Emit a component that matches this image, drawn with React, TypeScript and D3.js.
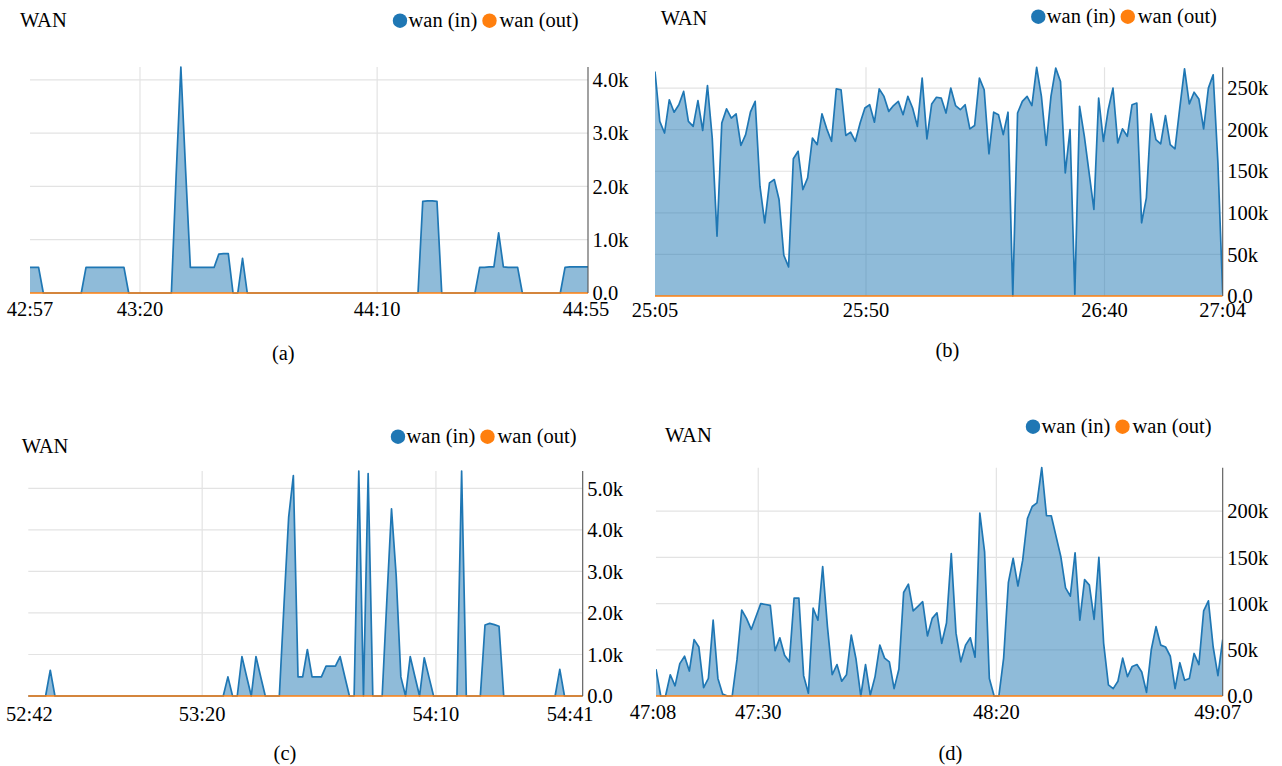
import React from "react";
import * as d3 from "d3";

// ---------- DATA (one sample per second, values in thousands) ----------
// Panel (a): first sample at 42:56.6
const aValuesK = [
  0.48, 0.48, 0.48, 0, 0, 0, 0, 0, 0, 0, 0, 0,
  0.48, 0.48, 0.48, 0.48, 0.48, 0.48, 0.48, 0.48, 0.48,
  0, 0, 0, 0, 0, 0, 0, 0, 0, 0,
  2.2, 4.24, 2.3,
  0.48, 0.48, 0.48, 0.48, 0.48, 0.48,
  0.73, 0.74, 0.74, 0, 0, 0.65,
  0, 0, 0, 0, 0, 0, 0, 0, 0, 0, 0, 0, 0, 0, 0, 0, 0, 0, 0, 0, 0, 0, 0, 0, 0, 0, 0, 0, 0, 0, 0, 0, 0, 0, 0, 0, 0,
  1.72, 1.73, 1.73, 1.72,
  0, 0, 0, 0, 0, 0, 0, 0,
  0.48, 0.48, 0.49, 0.49, 1.13, 0.49, 0.48, 0.48, 0.48,
  0, 0, 0, 0, 0, 0, 0, 0, 0,
  0.48, 0.49, 0.49, 0.49, 0.49, 0.49,
];
const aXTickLabels = ["42:57", "43:20", "44:10", "44:55"];
const aYTicksK = [0, 1, 2, 3, 4];

// Panel (b): first sample at 25:05.8
const bValuesK = [
  270, 210, 196, 236, 221, 230, 246, 210, 204, 235, 199, 253, 190, 72, 208, 225, 214, 219, 181, 194,
  221, 234, 132, 88, 136, 140, 116, 49, 35, 165, 174, 128, 142, 190, 182, 219, 201, 186, 249, 248,
  193, 197, 186, 208, 226, 230, 209, 249, 240, 222, 229, 234, 218, 240, 226, 204, 262, 189, 231, 239,
  238, 220, 250, 229, 224, 230, 201, 205, 262, 248, 171, 221, 218, 194, 221, 0, 220, 234, 240, 229,
  275, 240, 181, 240, 274, 258, 148, 200, 2, 228, 192, 148, 104, 238, 186, 224, 250, 184, 201, 192,
  230, 232, 88, 118, 219, 188, 183, 217, 182, 177, 226, 273, 231, 245, 237, 201, 250, 266, 160, 3,
];
const bXTickLabels = ["25:05", "25:50", "26:40", "27:04"];
const bYTicksK = [0, 50, 100, 150, 200, 250];

// Panel (c): first sample at 52:42.5
const cValuesK = [
  0, 0, 0, 0, 0, 0.62,
  0, 0, 0, 0, 0, 0, 0, 0, 0, 0, 0, 0, 0, 0, 0, 0, 0, 0, 0, 0, 0, 0, 0, 0, 0, 0, 0, 0, 0, 0, 0, 0, 0, 0, 0, 0, 0,
  0.46, 0, 0, 0.95, 0.47, 0, 0.95, 0.47, 0, 0, 0, 0,
  2.2, 4.31, 5.31, 0.46, 0.46, 1.12, 0.46, 0.46, 0.46, 0.72, 0.72, 0.72, 0.95, 0.47,
  0, 0, 5.42, 0, 5.36, 0, 0, 0, 2.3, 4.51, 2.9, 0.46, 0, 0.95, 0.47, 0, 0.92, 0.46,
  0, 0, 0, 0, 0, 0,
  5.42, 0, 0, 0, 0,
  1.71, 1.75, 1.72, 1.68,
  0, 0, 0, 0, 0, 0, 0, 0, 0, 0, 0, 0,
  0.64, 0, 0, 0, 0, 0,
];
const cXTickLabels = ["52:42", "53:20", "54:10", "54:41"];
const cYTicksK = [0, 1, 2, 3, 4, 5];

// Panel (d): first sample at 47:08.5
const dValuesK = [
  29, 0, 0, 23, 11, 35, 43, 27, 61, 53, 9, 19, 82, 19, 2, 0, 0, 39, 93, 84,
  72, 86, 100, 99, 98, 49, 63, 44, 37, 106, 106, 22, 3, 95, 82, 140, 75, 23, 34, 16,
  23, 66, 40, 0, 34, 1, 21, 55, 41, 37, 8, 29, 112, 121, 92, 97, 102, 65, 84, 90,
  57, 79, 154, 68, 37, 55, 63, 42, 198, 156, 19, 0, 0, 41, 123, 149, 119, 147, 192, 205,
  209, 247, 195, 195, 173, 151, 117, 108, 155, 82, 126, 120, 83, 150, 57, 12, 8, 16, 41, 21,
  32, 34, 26, 4, 50, 75, 55, 53, 43, 8, 36, 17, 19, 46, 34, 92, 103, 53, 22, 61,
];
const dXTickLabels = ["47:08", "47:30", "48:20", "49:07"];
const dYTicksK = [0, 50, 100, 150, 200];

// wan (out) reads 0 throughout every panel
const wanOutK = 0;

const seriesNames = ["wan (in)", "wan (out)"];
const seriesColors = ["#1f77b4", "#ff7f0e"];

// ---------- LAYOUT ----------
const FONT = "Liberation Serif, Times New Roman, serif";
const FS = 20.5;

const parseMS = (s: string) => {
  const [m, sec] = s.split(":").map(Number);
  return m * 60 + sec;
};

type Cfg = {
  id: string;
  values: number[];
  t0: number;
  tLo: number;
  tHi: number;
  xTicks: string[];
  yTicks: number[];
  left: number;
  right: number;
  top: number;
  bottom: number;
  title: [number, number];
  legend: [number, number];
  caption: string;
  capPos: [number, number];
  endShift: number;
  startShift: number;
  xLabelDy: number;
};

const panels: Cfg[] = [
  {
    id: "a", values: aValuesK, t0: 2576.62, tLo: 2576.81, tHi: 2694.46,
    xTicks: aXTickLabels, yTicks: aYTicksK,
    left: 30, right: 588, top: 67, bottom: 293,
    title: [20, 26.7], legend: [400, 20.7], caption: "(a)", capPos: [283.3, 359.5],
    endShift: -2, startShift: 0, xLabelDy: 23,
  },
  {
    id: "b", values: bValuesK, t0: 1505.77, tLo: 1505.77, tHi: 1624.77,
    xTicks: bXTickLabels, yTicks: bYTicksK,
    left: 655, right: 1222.7, top: 67.3, bottom: 296,
    title: [660.7, 25], legend: [1038.3, 16.7], caption: "(b)", capPos: [947.5, 356.5],
    endShift: 0, startShift: 0, xLabelDy: 21,
  },
  {
    id: "c", values: cValuesK, t0: 3162.5, tLo: 3162.8, tHi: 3281.4,
    xTicks: cXTickLabels, yTicks: cYTicksK,
    left: 28.3, right: 582.7, top: 471, bottom: 696,
    title: [21.7, 452.7], legend: [398, 436.7], caption: "(c)", capPos: [285, 759.5],
    endShift: -12.5, startShift: 1, xLabelDy: 24.5,
  },
  {
    id: "d", values: dValuesK, t0: 2828.53, tLo: 2828.53, tHi: 2947.53,
    xTicks: dXTickLabels, yTicks: dYTicksK,
    left: 656, right: 1222.7, top: 467.7, bottom: 696,
    title: [665, 441.7], legend: [1033, 426.7], caption: "(d)", capPos: [950.5, 759.5],
    endShift: -5, startShift: -3, xLabelDy: 23.3,
  },
];

const fmt = d3.format(".2s");

function Panel({ cfg }: { cfg: Cfg }) {
  const { values, t0, tLo, tHi, left, right, top, bottom } = cfg;
  const x = d3.scaleLinear().domain([tLo, tHi]).range([left, right]);
  const y = d3.scaleLinear().domain([0, d3.max(values) as number]).range([bottom, top]);
  const pts: [number, number][] = values.map((v, i) => [t0 + i, v]);

  const area = d3.area<[number, number]>().x((d) => x(d[0])).y0(y(0)).y1((d) => y(d[1]));
  const line = d3.line<[number, number]>().x((d) => x(d[0])).y((d) => y(d[1]));
  const outPts: [number, number][] = pts.map((d) => [d[0], wanOutK]);

  const midTicks = cfg.xTicks.slice(1, -1).map((l) => ({ l, t: parseMS(l) }));
  const clipId = `clip-${cfg.id}`;
  const [lx, ly] = cfg.legend;
  const textProps = { fontSize: FS, style: { fontFamily: FONT }, fill: "#000" };

  return (
    <g>
      <defs>
        <clipPath id={clipId}>
          <rect x={left} y={top - 20} width={right - left} height={bottom - top + 40} />
        </clipPath>
      </defs>
      {cfg.yTicks.filter((v) => v > 0).map((v) => (
        <line key={"gy" + v} x1={left} x2={right} y1={y(v)} y2={y(v)} stroke="#e3e3e3" strokeWidth={1.2} />
      ))}
      {midTicks.map((tk) => (
        <line key={"gx" + tk.l} x1={x(tk.t)} x2={x(tk.t)} y1={top} y2={bottom} stroke="#e3e3e3" strokeWidth={1.2} />
      ))}
      <g clipPath={`url(#${clipId})`}>
        <path d={area(pts) as string} fill={seriesColors[0]} fillOpacity={0.5} stroke="none" />
        <path d={line(pts) as string} fill="none" stroke={seriesColors[0]} strokeWidth={1.7} strokeLinejoin="round" />
        <path d={line(outPts) as string} fill="none" stroke={seriesColors[1]} strokeWidth={1.6} />
      </g>
      <line x1={right} x2={right} y1={top} y2={bottom} stroke="#555" strokeWidth={1.1} />
      {cfg.yTicks.map((v) => (
        <text key={"yt" + v} x={right + 4.5} y={y(v)} dy="0.35em" {...textProps}>
          {fmt(v * 1000)}
        </text>
      ))}
      <text x={left + cfg.startShift} y={bottom + cfg.xLabelDy} textAnchor="middle" {...textProps}>
        {cfg.xTicks[0]}
      </text>
      {midTicks.map((tk) => (
        <text key={"xt" + tk.l} x={x(tk.t)} y={bottom + cfg.xLabelDy} textAnchor="middle" {...textProps}>
          {tk.l}
        </text>
      ))}
      <text x={right + cfg.endShift} y={bottom + cfg.xLabelDy} textAnchor="middle" {...textProps}>
        {cfg.xTicks[cfg.xTicks.length - 1]}
      </text>
      <text x={cfg.title[0]} y={cfg.title[1]} {...textProps}>WAN</text>
      <circle cx={lx} cy={ly} r={7.2} fill={seriesColors[0]} />
      <text x={lx + 8.5} y={ly + 5.8} {...textProps}>{seriesNames[0]}</text>
      <circle cx={lx + 89.5} cy={ly} r={7.2} fill={seriesColors[1]} />
      <text x={lx + 99.5} y={ly + 5.8} {...textProps}>{seriesNames[1]}</text>
      <text x={cfg.capPos[0]} y={cfg.capPos[1]} textAnchor="middle" {...textProps}>
        {cfg.caption}
      </text>
    </g>
  );
}

export default function App() {
  return (
    <svg
      width={1282}
      height={766}
      style={{ position: "absolute", left: 0, top: 0, background: "#fff" }}
    >
      <rect x={0} y={0} width={1282} height={766} fill="#fff" />
      {panels.map((p) => (
        <Panel key={p.id} cfg={p} />
      ))}
    </svg>
  );
}
